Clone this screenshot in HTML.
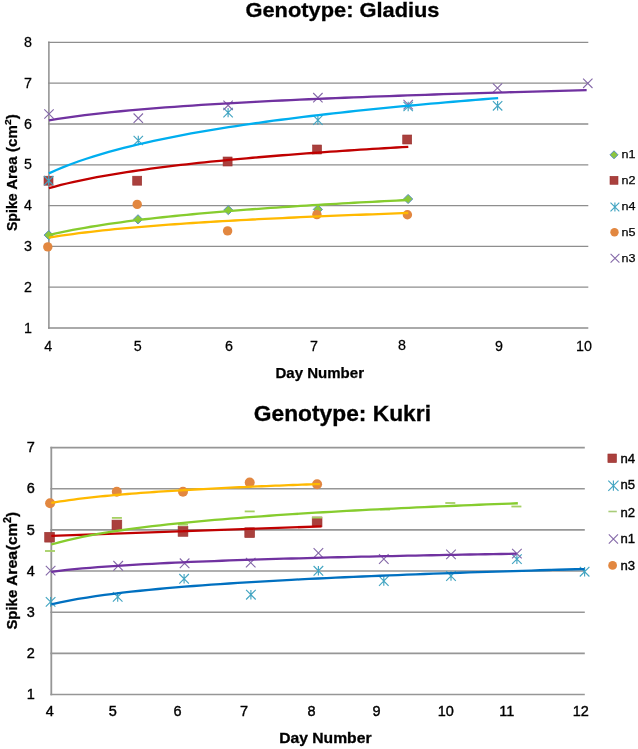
<!DOCTYPE html>
<html><head><meta charset="utf-8"><title>Spike Area by Day Number</title>
<style>html,body{margin:0;padding:0;background:#fff}svg{display:block}</style></head>
<body>
<svg width="638" height="749" viewBox="0 0 638 749">
<rect width="638" height="749" fill="#fff"/>
<defs><filter id="soft" x="0" y="0" width="638" height="749" filterUnits="userSpaceOnUse"><feGaussianBlur stdDeviation="0.38"/></filter></defs>
<g filter="url(#soft)">
<g id="top">
<path d="M48.1 328H588.3" stroke="#8e8e8e" stroke-width="1.3"/>
<path d="M48.1 287.2H588.3" stroke="#8e8e8e" stroke-width="1.3"/>
<path d="M48.1 246.4H588.3" stroke="#8e8e8e" stroke-width="1.3"/>
<path d="M48.1 205.6H588.3" stroke="#8e8e8e" stroke-width="1.3"/>
<path d="M48.1 164.8H588.3" stroke="#8e8e8e" stroke-width="1.3"/>
<path d="M48.1 124H588.3" stroke="#8e8e8e" stroke-width="1.3"/>
<path d="M48.1 83.2H588.3" stroke="#8e8e8e" stroke-width="1.3"/>
<path d="M48.1 42.4H588.3" stroke="#8e8e8e" stroke-width="1.3"/>
<path d="M48.9 41.6V328.8" stroke="#8e8e8e" stroke-width="1.5"/>
<path d="M48.7 230.5L53.3 235.1L48.7 239.7L44.1 235.1Z" fill="#8cc63f" stroke="#5b8fc0" stroke-width="1"/>
<path d="M138 214.7L142.6 219.3L138 223.9L133.4 219.3Z" fill="#8cc63f" stroke="#5b8fc0" stroke-width="1"/>
<path d="M228.3 205.5L232.9 210.1L228.3 214.7L223.7 210.1Z" fill="#8cc63f" stroke="#5b8fc0" stroke-width="1"/>
<path d="M317.9 204.8L322.5 209.4L317.9 214L313.3 209.4Z" fill="#8cc63f" stroke="#5b8fc0" stroke-width="1"/>
<path d="M408.1 194.4L412.7 199L408.1 203.6L403.5 199Z" fill="#8cc63f" stroke="#5b8fc0" stroke-width="1"/>
<rect x="44" y="176.2" width="9" height="9" fill="#aa3f3e" stroke="#9a3230" stroke-width="0.6"/>
<rect x="132.7" y="176.2" width="9" height="9" fill="#aa3f3e" stroke="#9a3230" stroke-width="0.6"/>
<rect x="223.1" y="157" width="9" height="9" fill="#aa3f3e" stroke="#9a3230" stroke-width="0.6"/>
<rect x="312.6" y="145" width="9" height="9" fill="#aa3f3e" stroke="#9a3230" stroke-width="0.6"/>
<rect x="402.7" y="135" width="9" height="9" fill="#aa3f3e" stroke="#9a3230" stroke-width="0.6"/>
<path d="M44 176L53.4 185.4M44 185.4L53.4 176M48.7 176L48.7 185.4" stroke="#43a5c2" stroke-width="1.15" fill="none"/>
<path d="M133.6 135.8L143 145.2M133.6 145.2L143 135.8M138.3 135.8L138.3 145.2" stroke="#43a5c2" stroke-width="1.15" fill="none"/>
<path d="M223.4 107.9L232.8 117.3M223.4 117.3L232.8 107.9M228.1 107.9L228.1 117.3" stroke="#43a5c2" stroke-width="1.15" fill="none"/>
<path d="M313.2 115.4L322.6 124.8M313.2 124.8L322.6 115.4M317.9 115.4L317.9 124.8" stroke="#43a5c2" stroke-width="1.15" fill="none"/>
<path d="M403.5 101.8L412.9 111.2M403.5 111.2L412.9 101.8M408.2 101.8L408.2 111.2" stroke="#43a5c2" stroke-width="1.15" fill="none"/>
<path d="M492.9 101.1L502.3 110.5M492.9 110.5L502.3 101.1M497.6 101.1L497.6 110.5" stroke="#43a5c2" stroke-width="1.15" fill="none"/>
<circle cx="47.8" cy="246.9" r="4.7" fill="#e2873f"/>
<circle cx="137.2" cy="204.4" r="4.7" fill="#e2873f"/>
<circle cx="227.6" cy="230.9" r="4.7" fill="#e2873f"/>
<circle cx="316.9" cy="214.6" r="4.7" fill="#e2873f"/>
<circle cx="407.4" cy="214.8" r="4.7" fill="#e2873f"/>
<path d="M44.3 109.3L53.7 118.7M44.3 118.7L53.7 109.3" stroke="#8468a8" stroke-width="1.1" fill="none"/>
<path d="M133.6 113.5L143 122.9M133.6 122.9L143 113.5" stroke="#8468a8" stroke-width="1.1" fill="none"/>
<path d="M223.4 100.6L232.8 110M223.4 110L232.8 100.6" stroke="#8468a8" stroke-width="1.1" fill="none"/>
<path d="M313.2 93L322.6 102.4M313.2 102.4L322.6 93" stroke="#8468a8" stroke-width="1.1" fill="none"/>
<path d="M403.5 99.9L412.9 109.3M403.5 109.3L412.9 99.9" stroke="#8468a8" stroke-width="1.1" fill="none"/>
<path d="M492.8 83.3L502.2 92.7M492.8 92.7L502.2 83.3" stroke="#8468a8" stroke-width="1.1" fill="none"/>
<path d="M583.1 78.6L592.5 88M583.1 88L592.5 78.6" stroke="#8468a8" stroke-width="1.1" fill="none"/>
<path d="M48.9 235.11 L54.89 233.7 L60.88 232.37 L66.87 231.13 L72.86 229.95 L78.85 228.83 L84.84 227.76 L90.83 226.75 L96.82 225.78 L102.81 224.85 L108.8 223.96 L114.79 223.1 L120.78 222.28 L126.77 221.48 L132.76 220.72 L138.75 219.98 L144.74 219.26 L150.73 218.57 L156.72 217.9 L162.71 217.24 L168.7 216.61 L174.69 216 L180.68 215.4 L186.67 214.82 L192.66 214.25 L198.65 213.7 L204.64 213.16 L210.63 212.63 L216.62 212.12 L222.61 211.62 L228.6 211.13 L234.59 210.65 L240.58 210.18 L246.57 209.72 L252.56 209.27 L258.55 208.83 L264.54 208.39 L270.53 207.97 L276.52 207.55 L282.51 207.15 L288.5 206.75 L294.49 206.35 L300.48 205.97 L306.47 205.59 L312.46 205.21 L318.45 204.85 L324.44 204.49 L330.43 204.13 L336.42 203.78 L342.41 203.44 L348.4 203.1 L354.39 202.77 L360.38 202.44 L366.37 202.11 L372.36 201.8 L378.35 201.48 L384.34 201.17 L390.33 200.87 L396.32 200.57 L402.31 200.27 L408.3 199.98" stroke="#86cc2e" stroke-width="2.3" fill="none" stroke-linejoin="round"/>
<path d="M48.9 188.19 L54.89 186.53 L60.88 184.97 L66.87 183.5 L72.86 182.11 L78.85 180.79 L84.84 179.54 L90.83 178.34 L96.82 177.2 L102.81 176.11 L108.8 175.06 L114.79 174.05 L120.78 173.08 L126.77 172.14 L132.76 171.24 L138.75 170.37 L144.74 169.53 L150.73 168.71 L156.72 167.92 L162.71 167.15 L168.7 166.41 L174.69 165.68 L180.68 164.98 L186.67 164.29 L192.66 163.63 L198.65 162.98 L204.64 162.34 L210.63 161.72 L216.62 161.12 L222.61 160.53 L228.6 159.95 L234.59 159.38 L240.58 158.83 L246.57 158.29 L252.56 157.76 L258.55 157.24 L264.54 156.73 L270.53 156.23 L276.52 155.74 L282.51 155.26 L288.5 154.79 L294.49 154.33 L300.48 153.87 L306.47 153.42 L312.46 152.99 L318.45 152.55 L324.44 152.13 L330.43 151.71 L336.42 151.3 L342.41 150.89 L348.4 150.5 L354.39 150.1 L360.38 149.72 L366.37 149.34 L372.36 148.96 L378.35 148.59 L384.34 148.23 L390.33 147.87 L396.32 147.51 L402.31 147.16 L408.3 146.82" stroke="#c00000" stroke-width="2.3" fill="none" stroke-linejoin="round"/>
<path d="M48.9 173.38 L56.39 170.01 L63.88 166.9 L71.36 164 L78.85 161.29 L86.34 158.74 L93.82 156.34 L101.31 154.06 L108.8 151.91 L116.29 149.86 L123.77 147.9 L131.26 146.04 L138.75 144.25 L146.24 142.53 L153.73 140.88 L161.21 139.3 L168.7 137.77 L176.19 136.29 L183.67 134.87 L191.16 133.49 L198.65 132.16 L206.14 130.86 L213.62 129.61 L221.11 128.39 L228.6 127.21 L236.09 126.06 L243.57 124.94 L251.06 123.84 L258.55 122.78 L266.04 121.74 L273.52 120.73 L281.01 119.74 L288.5 118.77 L295.99 117.83 L303.48 116.91 L310.96 116 L318.45 115.12 L325.94 114.25 L333.42 113.4 L340.91 112.57 L348.4 111.75 L355.89 110.95 L363.37 110.17 L370.86 109.4 L378.35 108.64 L385.84 107.9 L393.32 107.17 L400.81 106.45 L408.3 105.74 L415.79 105.05 L423.28 104.36 L430.76 103.69 L438.25 103.03 L445.74 102.38 L453.22 101.74 L460.71 101.1 L468.2 100.48 L475.69 99.87 L483.17 99.26 L490.66 98.67 L498.15 98.08" stroke="#00aeef" stroke-width="2.3" fill="none" stroke-linejoin="round"/>
<path d="M48.9 237.64 L54.89 236.65 L60.88 235.72 L66.87 234.85 L72.86 234.02 L78.85 233.23 L84.84 232.49 L90.83 231.78 L96.82 231.1 L102.81 230.44 L108.8 229.82 L114.79 229.22 L120.78 228.64 L126.77 228.09 L132.76 227.55 L138.75 227.03 L144.74 226.53 L150.73 226.04 L156.72 225.57 L162.71 225.12 L168.7 224.67 L174.69 224.24 L180.68 223.82 L186.67 223.41 L192.66 223.02 L198.65 222.63 L204.64 222.25 L210.63 221.88 L216.62 221.52 L222.61 221.17 L228.6 220.83 L234.59 220.49 L240.58 220.16 L246.57 219.84 L252.56 219.52 L258.55 219.22 L264.54 218.91 L270.53 218.62 L276.52 218.32 L282.51 218.04 L288.5 217.76 L294.49 217.48 L300.48 217.21 L306.47 216.94 L312.46 216.68 L318.45 216.43 L324.44 216.17 L330.43 215.92 L336.42 215.68 L342.41 215.44 L348.4 215.2 L354.39 214.97 L360.38 214.74 L366.37 214.51 L372.36 214.29 L378.35 214.07 L384.34 213.85 L390.33 213.64 L396.32 213.43 L402.31 213.22 L408.3 213.01" stroke="#ffb900" stroke-width="2.3" fill="none" stroke-linejoin="round"/>
<path d="M48.9 120.34 L57.86 118.86 L66.83 117.52 L75.79 116.28 L84.75 115.13 L93.71 114.06 L102.68 113.06 L111.64 112.13 L120.6 111.24 L129.56 110.4 L138.53 109.61 L147.49 108.85 L156.45 108.13 L165.41 107.44 L174.38 106.79 L183.34 106.15 L192.3 105.55 L201.26 104.96 L210.23 104.4 L219.19 103.85 L228.15 103.33 L237.11 102.82 L246.08 102.33 L255.04 101.85 L264 101.39 L272.96 100.94 L281.93 100.5 L290.89 100.08 L299.85 99.67 L308.81 99.26 L317.78 98.87 L326.74 98.49 L335.7 98.12 L344.66 97.75 L353.63 97.4 L362.59 97.05 L371.55 96.71 L380.51 96.37 L389.48 96.05 L398.44 95.73 L407.4 95.41 L416.36 95.11 L425.33 94.81 L434.29 94.51 L443.25 94.22 L452.21 93.94 L461.18 93.66 L470.14 93.38 L479.1 93.11 L488.06 92.85 L497.03 92.59 L505.99 92.33 L514.95 92.08 L523.91 91.83 L532.88 91.59 L541.84 91.35 L550.8 91.11 L559.76 90.88 L568.73 90.65 L577.69 90.42 L586.65 90.2" stroke="#7030a0" stroke-width="2.3" fill="none" stroke-linejoin="round"/>
</g>
<g font-family="&quot;Liberation Sans&quot;, Arial, sans-serif" fill="#000">
<text x="245.5" y="17.4" font-size="20.6" font-weight="bold" stroke="#000" stroke-width="0.3" textLength="194" lengthAdjust="spacingAndGlyphs">Genotype: Gladius</text>
<text transform="translate(28 332.6) scale(0.96 1)" font-size="14.9" text-anchor="middle" stroke="#000" stroke-width="0.25">1</text>
<text transform="translate(28 291.8) scale(0.96 1)" font-size="14.9" text-anchor="middle" stroke="#000" stroke-width="0.25">2</text>
<text transform="translate(28 251) scale(0.96 1)" font-size="14.9" text-anchor="middle" stroke="#000" stroke-width="0.25">3</text>
<text transform="translate(28 210.2) scale(0.96 1)" font-size="14.9" text-anchor="middle" stroke="#000" stroke-width="0.25">4</text>
<text transform="translate(28 169.4) scale(0.96 1)" font-size="14.9" text-anchor="middle" stroke="#000" stroke-width="0.25">5</text>
<text transform="translate(28 128.6) scale(0.96 1)" font-size="14.9" text-anchor="middle" stroke="#000" stroke-width="0.25">6</text>
<text transform="translate(28 87.8) scale(0.96 1)" font-size="14.9" text-anchor="middle" stroke="#000" stroke-width="0.25">7</text>
<text transform="translate(28 47) scale(0.96 1)" font-size="14.9" text-anchor="middle" stroke="#000" stroke-width="0.25">8</text>
<text transform="translate(48.3 351) scale(0.96 1)" font-size="14.9" text-anchor="middle" stroke="#000" stroke-width="0.25">4</text>
<text transform="translate(137.7 351) scale(0.96 1)" font-size="14.9" text-anchor="middle" stroke="#000" stroke-width="0.25">5</text>
<text transform="translate(228.9 351) scale(0.96 1)" font-size="14.9" text-anchor="middle" stroke="#000" stroke-width="0.25">6</text>
<text transform="translate(314 351.3) scale(0.96 1)" font-size="14.9" text-anchor="middle" stroke="#000" stroke-width="0.25">7</text>
<text transform="translate(402 350.3) scale(0.96 1)" font-size="14.9" text-anchor="middle" stroke="#000" stroke-width="0.25">8</text>
<text transform="translate(498.9 350.9) scale(0.96 1)" font-size="14.9" text-anchor="middle" stroke="#000" stroke-width="0.25">9</text>
<text transform="translate(584 350.6) scale(0.96 1)" font-size="14.9" text-anchor="middle" stroke="#000" stroke-width="0.25">10</text>
<text x="275.5" y="377.7" font-size="14.2" font-weight="bold" stroke="#000" stroke-width="0.25" textLength="88.5" lengthAdjust="spacingAndGlyphs">Day Number</text>
<text transform="translate(16.5 231.1) rotate(-90)" font-size="14.2" font-weight="bold" stroke="#000" stroke-width="0.25" textLength="37.7" lengthAdjust="spacingAndGlyphs">Spike</text>
<text transform="translate(16.5 189.8) rotate(-90)" font-size="14.2" font-weight="bold" stroke="#000" stroke-width="0.25" textLength="33.3" lengthAdjust="spacingAndGlyphs">Area</text>
<text transform="translate(16.5 151.9) rotate(-90)" font-size="14.2" font-weight="bold" stroke="#000" stroke-width="0.25" textLength="37.6" lengthAdjust="spacingAndGlyphs">(cm<tspan font-size="9.8" dy="-5.2">2</tspan><tspan dy="5.2">)</tspan></text>
<text x="621.6" y="158.3" font-size="11.8" textLength="14" lengthAdjust="spacingAndGlyphs" stroke="#000" stroke-width="0.25">n1</text>
<text x="621.6" y="184" font-size="11.8" textLength="14" lengthAdjust="spacingAndGlyphs" stroke="#000" stroke-width="0.25">n2</text>
<text x="621.6" y="210" font-size="11.8" textLength="14" lengthAdjust="spacingAndGlyphs" stroke="#000" stroke-width="0.25">n4</text>
<text x="621.6" y="235.7" font-size="11.8" textLength="14" lengthAdjust="spacingAndGlyphs" stroke="#000" stroke-width="0.25">n5</text>
<text x="621.6" y="261.7" font-size="11.8" textLength="14" lengthAdjust="spacingAndGlyphs" stroke="#000" stroke-width="0.25">n3</text>
</g>
<path d="M614 150.8L618 154.8L614 158.8L610 154.8Z" fill="#8cc63f" stroke="#5b8fc0" stroke-width="1"/>
<rect x="610" y="176.3" width="8" height="8" fill="#aa3f3e" stroke="#9a3230" stroke-width="0.6"/>
<path d="M610.5 202.6L619.3 211.4M610.5 211.4L619.3 202.6M614.9 202.6L614.9 211.4" stroke="#43a5c2" stroke-width="1.15" fill="none"/>
<circle cx="614.5" cy="232.2" r="4.2" fill="#e2873f"/>
<path d="M610.6 253.9L619.4 262.7M610.6 262.7L619.4 253.9" stroke="#8468a8" stroke-width="1.1" fill="none"/>
<g id="bottom">
<path d="M50.4 694.5H584.8" stroke="#969696" stroke-width="1.6"/>
<path d="M50.4 653.35H584.8" stroke="#969696" stroke-width="1.6"/>
<path d="M50.4 612.2H584.8" stroke="#969696" stroke-width="1.6"/>
<path d="M50.4 571.05H584.8" stroke="#969696" stroke-width="1.6"/>
<path d="M50.4 529.9H584.8" stroke="#969696" stroke-width="1.6"/>
<path d="M50.4 488.75H584.8" stroke="#969696" stroke-width="1.6"/>
<path d="M50.4 447.6H584.8" stroke="#969696" stroke-width="1.6"/>
<path d="M51.3 446.8V695.3" stroke="#969696" stroke-width="1.8"/>
<rect x="44.7" y="532.3" width="9.8" height="9.8" fill="#aa3f3e" stroke="#9a3230" stroke-width="0.6"/>
<rect x="112" y="520.1" width="9.8" height="9.8" fill="#aa3f3e" stroke="#9a3230" stroke-width="0.6"/>
<rect x="178.1" y="526.5" width="9.8" height="9.8" fill="#aa3f3e" stroke="#9a3230" stroke-width="0.6"/>
<rect x="244.8" y="527.8" width="9.8" height="9.8" fill="#aa3f3e" stroke="#9a3230" stroke-width="0.6"/>
<rect x="312.2" y="517" width="9.8" height="9.8" fill="#aa3f3e" stroke="#9a3230" stroke-width="0.6"/>
<path d="M45.8 597.1L55.4 606.7M45.8 606.7L55.4 597.1M50.6 597.1L50.6 606.7" stroke="#43a5c2" stroke-width="1.15" fill="none"/>
<path d="M112.9 592.1L122.5 601.7M112.9 601.7L122.5 592.1M117.7 592.1L117.7 601.7" stroke="#43a5c2" stroke-width="1.15" fill="none"/>
<path d="M179.3 574L188.9 583.6M179.3 583.6L188.9 574M184.1 574L184.1 583.6" stroke="#43a5c2" stroke-width="1.15" fill="none"/>
<path d="M246.1 589.9L255.7 599.5M246.1 599.5L255.7 589.9M250.9 589.9L250.9 599.5" stroke="#43a5c2" stroke-width="1.15" fill="none"/>
<path d="M313.6 566L323.2 575.6M313.6 575.6L323.2 566M318.4 566L318.4 575.6" stroke="#43a5c2" stroke-width="1.15" fill="none"/>
<path d="M379 576.2L388.6 585.8M379 585.8L388.6 576.2M383.8 576.2L383.8 585.8" stroke="#43a5c2" stroke-width="1.15" fill="none"/>
<path d="M446.2 571.2L455.8 580.8M446.2 580.8L455.8 571.2M451 571.2L451 580.8" stroke="#43a5c2" stroke-width="1.15" fill="none"/>
<path d="M512.1 554.3L521.7 563.9M512.1 563.9L521.7 554.3M516.9 554.3L516.9 563.9" stroke="#43a5c2" stroke-width="1.15" fill="none"/>
<path d="M579.8 566.9L589.4 576.5M579.8 576.5L589.4 566.9M584.6 566.9L584.6 576.5" stroke="#43a5c2" stroke-width="1.15" fill="none"/>
<path d="M45 551L55 551" stroke="#a5d064" stroke-width="1.8" fill="none"/>
<path d="M111.9 517.9L121.9 517.9" stroke="#a5d064" stroke-width="1.8" fill="none"/>
<path d="M178 524.7L188 524.7" stroke="#a5d064" stroke-width="1.8" fill="none"/>
<path d="M244.7 511.4L254.7 511.4" stroke="#a5d064" stroke-width="1.8" fill="none"/>
<path d="M312 517.6L322 517.6" stroke="#a5d064" stroke-width="1.8" fill="none"/>
<path d="M380.1 509.6L390.1 509.6" stroke="#a5d064" stroke-width="1.8" fill="none"/>
<path d="M445.3 503L455.3 503" stroke="#a5d064" stroke-width="1.8" fill="none"/>
<path d="M511.4 506.5L521.4 506.5" stroke="#a5d064" stroke-width="1.8" fill="none"/>
<path d="M45.8 565.8L55.4 575.4M45.8 575.4L55.4 565.8" stroke="#8468a8" stroke-width="1.1" fill="none"/>
<path d="M113.4 561L123 570.6M113.4 570.6L123 561" stroke="#8468a8" stroke-width="1.1" fill="none"/>
<path d="M179.8 558.5L189.4 568.1M179.8 568.1L189.4 558.5" stroke="#8468a8" stroke-width="1.1" fill="none"/>
<path d="M245.9 557.8L255.5 567.4M245.9 567.4L255.5 557.8" stroke="#8468a8" stroke-width="1.1" fill="none"/>
<path d="M313.6 548.2L323.2 557.8M313.6 557.8L323.2 548.2" stroke="#8468a8" stroke-width="1.1" fill="none"/>
<path d="M379 554.2L388.6 563.8M379 563.8L388.6 554.2" stroke="#8468a8" stroke-width="1.1" fill="none"/>
<path d="M446.2 549.6L455.8 559.2M446.2 559.2L455.8 549.6" stroke="#8468a8" stroke-width="1.1" fill="none"/>
<path d="M512.1 548.8L521.7 558.4M512.1 558.4L521.7 548.8" stroke="#8468a8" stroke-width="1.1" fill="none"/>
<circle cx="50.1" cy="503.3" r="5" fill="#e2873f"/>
<circle cx="116.8" cy="491.8" r="5" fill="#e2873f"/>
<circle cx="183" cy="491.8" r="5" fill="#e2873f"/>
<circle cx="249.7" cy="482.6" r="5" fill="#e2873f"/>
<circle cx="317.1" cy="484.3" r="5" fill="#e2873f"/>
<path d="M51.3 535.9L321.5 526.4" stroke="#c00000" stroke-width="2.3" fill="none"/>
<path d="M51.3 604.39 L60.19 602.37 L69.07 600.58 L77.96 598.97 L86.85 597.51 L95.73 596.17 L104.62 594.93 L113.51 593.78 L122.39 592.71 L131.28 591.7 L140.17 590.75 L149.05 589.86 L157.94 589.01 L166.83 588.21 L175.71 587.44 L184.6 586.71 L193.49 586.01 L202.37 585.34 L211.26 584.7 L220.15 584.08 L229.03 583.48 L237.92 582.91 L246.81 582.35 L255.69 581.81 L264.58 581.3 L273.47 580.79 L282.35 580.3 L291.24 579.83 L300.13 579.37 L309.01 578.92 L317.9 578.49 L326.79 578.07 L335.67 577.65 L344.56 577.25 L353.45 576.86 L362.33 576.48 L371.22 576.1 L380.11 575.74 L388.99 575.38 L397.88 575.03 L406.77 574.69 L415.65 574.35 L424.54 574.02 L433.43 573.7 L442.31 573.38 L451.2 573.08 L460.09 572.77 L468.97 572.47 L477.86 572.18 L486.75 571.89 L495.63 571.61 L504.52 571.33 L513.41 571.06 L522.29 570.79 L531.18 570.53 L540.07 570.27 L548.95 570.01 L557.84 569.76 L566.73 569.51 L575.61 569.27 L584.5 569.03" stroke="#0070c0" stroke-width="2.3" fill="none" stroke-linejoin="round"/>
<path d="M51.3 544.5 L59.08 542.31 L66.85 540.34 L74.63 538.55 L82.4 536.9 L90.18 535.38 L97.96 533.98 L105.73 532.66 L113.51 531.42 L121.28 530.26 L129.06 529.17 L136.83 528.13 L144.61 527.14 L152.39 526.2 L160.16 525.3 L167.94 524.44 L175.71 523.61 L183.49 522.82 L191.26 522.06 L199.04 521.33 L206.82 520.62 L214.59 519.94 L222.37 519.28 L230.14 518.64 L237.92 518.03 L245.7 517.43 L253.47 516.85 L261.25 516.28 L269.02 515.73 L276.8 515.2 L284.58 514.67 L292.35 514.17 L300.13 513.67 L307.9 513.19 L315.68 512.72 L323.45 512.26 L331.23 511.81 L339.01 511.37 L346.78 510.94 L354.56 510.52 L362.33 510.1 L370.11 509.7 L377.89 509.3 L385.66 508.92 L393.44 508.53 L401.21 508.16 L408.99 507.79 L416.76 507.43 L424.54 507.08 L432.32 506.73 L440.09 506.39 L447.87 506.06 L455.64 505.73 L463.42 505.4 L471.2 505.08 L478.97 504.77 L486.75 504.46 L494.52 504.15 L502.3 503.85 L510.07 503.56 L517.85 503.27" stroke="#86cc2e" stroke-width="2.3" fill="none" stroke-linejoin="round"/>
<path d="M51.3 571.79 L59.05 570.84 L66.81 569.97 L74.56 569.19 L82.31 568.47 L90.07 567.8 L97.82 567.19 L105.58 566.61 L113.33 566.07 L121.08 565.56 L128.84 565.08 L136.59 564.62 L144.34 564.19 L152.1 563.78 L159.85 563.38 L167.6 563.01 L175.36 562.65 L183.11 562.3 L190.87 561.96 L198.62 561.64 L206.37 561.33 L214.13 561.03 L221.88 560.75 L229.63 560.47 L237.39 560.19 L245.14 559.93 L252.89 559.68 L260.65 559.43 L268.4 559.19 L276.15 558.95 L283.91 558.72 L291.66 558.5 L299.42 558.28 L307.17 558.07 L314.92 557.87 L322.68 557.66 L330.43 557.47 L338.18 557.27 L345.94 557.08 L353.69 556.9 L361.44 556.72 L369.2 556.54 L376.95 556.37 L384.71 556.2 L392.46 556.03 L400.21 555.87 L407.97 555.71 L415.72 555.55 L423.47 555.39 L431.23 555.24 L438.98 555.09 L446.73 554.94 L454.49 554.8 L462.24 554.66 L470 554.52 L477.75 554.38 L485.5 554.24 L493.26 554.11 L501.01 553.98 L508.76 553.85 L516.52 553.72" stroke="#7030a0" stroke-width="2.3" fill="none" stroke-linejoin="round"/>
<path d="M51.3 502.91 L55.78 502.15 L60.25 501.44 L64.73 500.77 L69.21 500.13 L73.68 499.53 L78.16 498.96 L82.64 498.41 L87.11 497.89 L91.59 497.39 L96.07 496.91 L100.54 496.45 L105.02 496.01 L109.5 495.58 L113.97 495.17 L118.45 494.77 L122.93 494.39 L127.4 494.02 L131.88 493.66 L136.36 493.31 L140.83 492.97 L145.31 492.64 L149.79 492.32 L154.26 492 L158.74 491.7 L163.22 491.4 L167.69 491.11 L172.17 490.83 L176.65 490.56 L181.12 490.29 L185.6 490.02 L190.08 489.77 L194.55 489.51 L199.03 489.27 L203.51 489.03 L207.98 488.79 L212.46 488.56 L216.94 488.33 L221.41 488.11 L225.89 487.89 L230.37 487.67 L234.84 487.46 L239.32 487.26 L243.8 487.05 L248.27 486.85 L252.75 486.66 L257.23 486.46 L261.7 486.27 L266.18 486.09 L270.66 485.9 L275.13 485.72 L279.61 485.54 L284.09 485.37 L288.56 485.19 L293.04 485.02 L297.52 484.85 L301.99 484.69 L306.47 484.52 L310.95 484.36 L315.42 484.2 L319.9 484.05" stroke="#ffb900" stroke-width="2.3" fill="none" stroke-linejoin="round"/>
</g>
<g font-family="&quot;Liberation Sans&quot;, Arial, sans-serif" fill="#000">
<text x="253.8" y="421.3" font-size="21.4" font-weight="bold" stroke="#000" stroke-width="0.3" textLength="177.2" lengthAdjust="spacingAndGlyphs">Genotype: Kukri</text>
<text transform="translate(30.7 699.2) scale(0.96 1)" font-size="15.1" text-anchor="middle" stroke="#000" stroke-width="0.4">1</text>
<text transform="translate(30.7 658.05) scale(0.96 1)" font-size="15.1" text-anchor="middle" stroke="#000" stroke-width="0.4">2</text>
<text transform="translate(30.7 616.9) scale(0.96 1)" font-size="15.1" text-anchor="middle" stroke="#000" stroke-width="0.4">3</text>
<text transform="translate(30.7 575.75) scale(0.96 1)" font-size="15.1" text-anchor="middle" stroke="#000" stroke-width="0.4">4</text>
<text transform="translate(30.7 534.6) scale(0.96 1)" font-size="15.1" text-anchor="middle" stroke="#000" stroke-width="0.4">5</text>
<text transform="translate(30.7 493.45) scale(0.96 1)" font-size="15.1" text-anchor="middle" stroke="#000" stroke-width="0.4">6</text>
<text transform="translate(30.7 452.3) scale(0.96 1)" font-size="15.1" text-anchor="middle" stroke="#000" stroke-width="0.4">7</text>
<text transform="translate(49.7 716.4) scale(0.96 1)" font-size="15.1" text-anchor="middle" stroke="#000" stroke-width="0.4">4</text>
<text transform="translate(112.7 716.4) scale(0.96 1)" font-size="15.1" text-anchor="middle" stroke="#000" stroke-width="0.4">5</text>
<text transform="translate(177.6 716.4) scale(0.96 1)" font-size="15.1" text-anchor="middle" stroke="#000" stroke-width="0.4">6</text>
<text transform="translate(243.9 716.4) scale(0.96 1)" font-size="15.1" text-anchor="middle" stroke="#000" stroke-width="0.4">7</text>
<text transform="translate(311.4 716.4) scale(0.96 1)" font-size="15.1" text-anchor="middle" stroke="#000" stroke-width="0.4">8</text>
<text transform="translate(376.6 716.4) scale(0.96 1)" font-size="15.1" text-anchor="middle" stroke="#000" stroke-width="0.4">9</text>
<text transform="translate(445.7 716.4) scale(0.96 1)" font-size="15.1" text-anchor="middle" stroke="#000" stroke-width="0.4">10</text>
<text transform="translate(506.9 716.4) scale(0.96 1)" font-size="15.1" text-anchor="middle" stroke="#000" stroke-width="0.4">11</text>
<text transform="translate(580.7 716.4) scale(0.96 1)" font-size="15.1" text-anchor="middle" stroke="#000" stroke-width="0.4">12</text>
<text x="279.2" y="743.1" font-size="14.8" font-weight="bold" stroke="#000" stroke-width="0.3" textLength="92.3" lengthAdjust="spacingAndGlyphs">Day Number</text>
<text transform="translate(16.7 629.6) rotate(-90)" font-size="14.8" font-weight="bold" stroke="#000" stroke-width="0.3" textLength="39.8" lengthAdjust="spacingAndGlyphs">Spike</text>
<text transform="translate(16.7 586.1) rotate(-90)" font-size="14.8" font-weight="bold" stroke="#000" stroke-width="0.3" textLength="35.3" lengthAdjust="spacingAndGlyphs">Area</text>
<text transform="translate(16.7 550.1) rotate(-90)" font-size="14.8" font-weight="bold" stroke="#000" stroke-width="0.3" textLength="38.1" lengthAdjust="spacingAndGlyphs">(cm<tspan font-size="10.4" dy="-5.6">2</tspan><tspan dy="5.6">)</tspan></text>
<text x="620.4" y="462.6" font-size="12.1" textLength="14.6" lengthAdjust="spacingAndGlyphs" stroke="#000" stroke-width="0.35">n4</text>
<text x="620.4" y="489.4" font-size="12.1" textLength="14.6" lengthAdjust="spacingAndGlyphs" stroke="#000" stroke-width="0.35">n5</text>
<text x="620.4" y="516.5" font-size="12.1" textLength="14.6" lengthAdjust="spacingAndGlyphs" stroke="#000" stroke-width="0.35">n2</text>
<text x="620.4" y="543.3" font-size="12.1" textLength="14.6" lengthAdjust="spacingAndGlyphs" stroke="#000" stroke-width="0.35">n1</text>
<text x="620.4" y="569.7" font-size="12.1" textLength="14.6" lengthAdjust="spacingAndGlyphs" stroke="#000" stroke-width="0.35">n3</text>
</g>
<rect x="607.9" y="454" width="8.6" height="8.6" fill="#aa3f3e" stroke="#9a3230" stroke-width="0.6"/>
<path d="M608.3 480.6L618.5 490.8M608.3 490.8L618.5 480.6M613.4 480.6L613.4 490.8" stroke="#43a5c2" stroke-width="1.15" fill="none"/>
<path d="M608.4 511.5L616.8 511.5" stroke="#a8cc78" stroke-width="1.6" fill="none"/>
<path d="M608.8 534.4L618 543.6M608.8 543.6L618 534.4" stroke="#8468a8" stroke-width="1.1" fill="none"/>
<circle cx="612.6" cy="565.4" r="4.4" fill="#e2873f"/>
</g>
</svg>
</body></html>
